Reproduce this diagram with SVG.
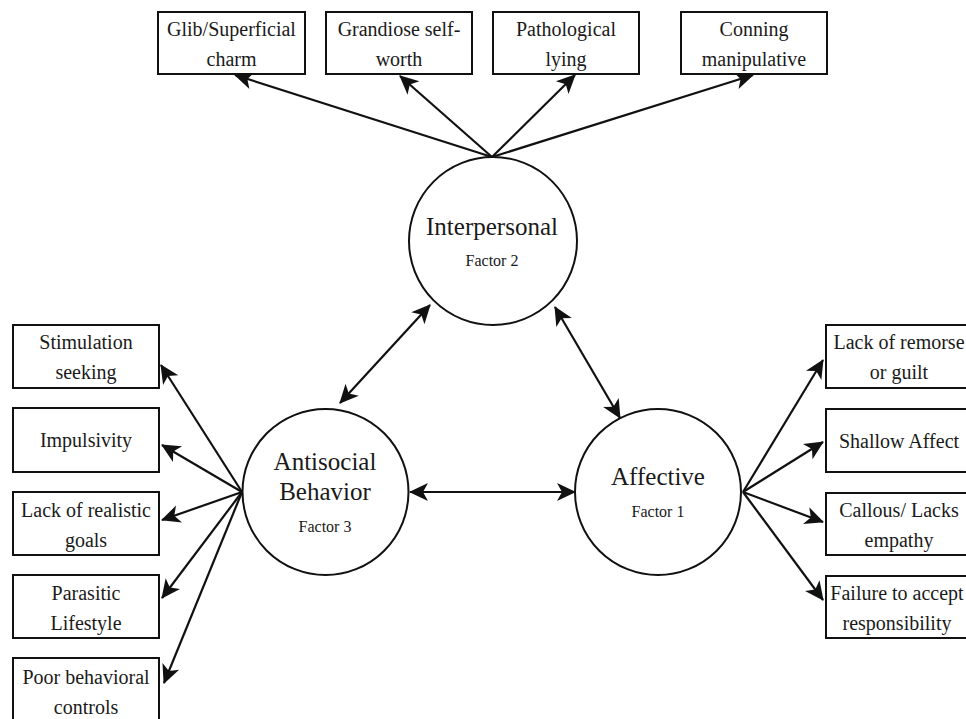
<svg xmlns="http://www.w3.org/2000/svg" width="966" height="719" viewBox="0 0 966 719">
<defs>
<style>
.box{fill:#fff;stroke:#111;stroke-width:2}
.circ{fill:#fff;stroke:#111;stroke-width:2}
.t{font-family:"Liberation Serif","Times New Roman",serif;font-size:20px;fill:#1a1a1a;text-anchor:middle}
.big{font-family:"Liberation Serif","Times New Roman",serif;font-size:25px;fill:#1a1a1a;text-anchor:middle}
.small{font-family:"Liberation Serif","Times New Roman",serif;font-size:16px;fill:#1a1a1a;text-anchor:middle}
.c{stroke:#111;stroke-width:2.2;fill:none;marker-end:url(#ah)}
.cb{stroke:#111;stroke-width:2.2;fill:none;marker-end:url(#ah);marker-start:url(#ah)}
</style>
<marker id="ah" markerUnits="userSpaceOnUse" markerWidth="24" markerHeight="24" viewBox="-20 -12 24 24" refX="0" refY="0" orient="auto-start-reverse">
<path d="M1,0 L-18,-9 L-13,0 L-18,9 Z" fill="#111"/>
</marker>
</defs>
<rect width="966" height="719" fill="#fff"/>

<g id="connectors">
<line class="c" x1="492" y1="157" x2="235" y2="75"/>
<line class="c" x1="492" y1="157" x2="400" y2="76"/>
<line class="c" x1="492" y1="157" x2="575" y2="75"/>
<line class="c" x1="492" y1="157" x2="753" y2="75"/>
<line class="c" x1="242" y1="492" x2="161" y2="365"/>
<line class="c" x1="242" y1="492" x2="162" y2="445"/>
<line class="c" x1="242" y1="492" x2="162" y2="520"/>
<line class="c" x1="242" y1="492" x2="162" y2="598"/>
<line class="c" x1="242" y1="492" x2="164" y2="683"/>
<line class="c" x1="743" y1="492" x2="823" y2="360"/>
<line class="c" x1="743" y1="492" x2="823" y2="442"/>
<line class="c" x1="743" y1="492" x2="823" y2="522"/>
<line class="c" x1="743" y1="492" x2="823" y2="600"/>
<line class="cb" x1="430" y1="305" x2="340" y2="403"/>
<line class="cb" x1="555" y1="307" x2="620" y2="418"/>
<line class="cb" x1="410" y1="492" x2="575" y2="492"/>
</g>

<g id="glib"><rect class="box" x="158" y="12" width="147" height="62"/><text class="t" x="231.5" y="36">Glib/Superficial</text><text class="t" x="231.5" y="66">charm</text></g>
<g id="grandiose"><rect class="box" x="326" y="12" width="146" height="62"/><text class="t" x="399" y="36">Grandiose self-</text><text class="t" x="399" y="66">worth</text></g>
<g id="pathological"><rect class="box" x="493" y="12" width="146" height="62"/><text class="t" x="566" y="36">Pathological</text><text class="t" x="566" y="66">lying</text></g>
<g id="conning"><rect class="box" x="681" y="12" width="146" height="62"/><text class="t" x="754" y="36">Conning</text><text class="t" x="754" y="66">manipulative</text></g>

<g id="interpersonal"><circle class="circ" cx="493" cy="241" r="84"/><text class="big" x="492" y="235">Interpersonal</text><text class="small" x="492" y="266">Factor 2</text></g>
<g id="antisocial"><circle class="circ" cx="325.5" cy="492" r="83"/><text class="big" x="325" y="470">Antisocial</text><text class="big" x="325" y="500">Behavior</text><text class="small" x="325" y="532">Factor 3</text></g>
<g id="affective"><circle class="circ" cx="658" cy="492" r="83"/><text class="big" x="658" y="485">Affective</text><text class="small" x="658" y="517">Factor 1</text></g>

<g id="stimulation"><rect class="box" x="13" y="325" width="146" height="63"/><text class="t" x="86" y="349">Stimulation</text><text class="t" x="86" y="379">seeking</text></g>
<g id="impulsivity"><rect class="box" x="13" y="408" width="146" height="64"/><text class="t" x="86" y="447">Impulsivity</text></g>
<g id="realistic"><rect class="box" x="13" y="492" width="146" height="63"/><text class="t" x="86" y="517">Lack of realistic</text><text class="t" x="86" y="547">goals</text></g>
<g id="parasitic"><rect class="box" x="13" y="575" width="146" height="63"/><text class="t" x="86" y="600">Parasitic</text><text class="t" x="86" y="630">Lifestyle</text></g>
<g id="poor"><rect class="box" x="13" y="658" width="146" height="64"/><text class="t" x="86" y="684">Poor behavioral</text><text class="t" x="86" y="714">controls</text></g>

<g id="remorse"><rect class="box" x="826" y="325" width="146" height="63"/><text class="t" x="899" y="349">Lack of remorse</text><text class="t" x="899" y="379">or guilt</text></g>
<g id="shallow"><rect class="box" x="826" y="409" width="146" height="63"/><text class="t" x="899" y="448">Shallow Affect</text></g>
<g id="callous"><rect class="box" x="826" y="493" width="146" height="62"/><text class="t" x="899" y="517">Callous/ Lacks</text><text class="t" x="899" y="547">empathy</text></g>
<g id="failure"><rect class="box" x="826" y="576" width="146" height="62"/><text class="t" x="897" y="600">Failure to accept</text><text class="t" x="897" y="630">responsibility</text></g>
</svg>
